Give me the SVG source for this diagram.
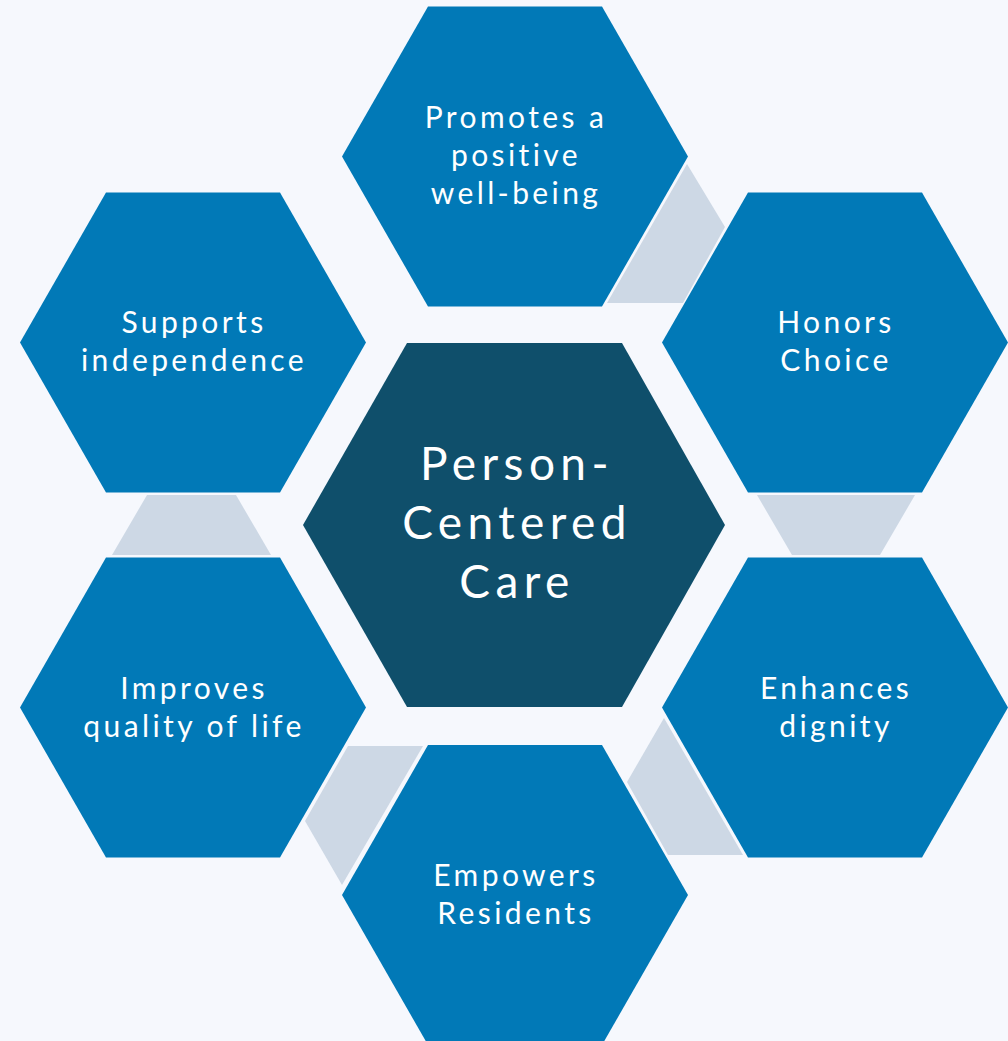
<svg xmlns="http://www.w3.org/2000/svg" width="1008" height="1041" viewBox="0 0 1008 1041">
  <style>
    .hex { fill: #0179b7; }
    .core { fill: #0f4f6b; }
    .link { fill: #cdd8e5; }
    .label { font-family: Lato, "Open Sans", "DejaVu Sans", sans-serif; fill: #ffffff; text-anchor: middle; }
    .small { font-size: 30px; letter-spacing: 3.4px; }
    .big { font-size: 46px; letter-spacing: 5.4px; }
  </style>
  <defs>
    <!-- flat-topped hexagon, centred on the origin -->
    <polygon id="cell" points="-173,0 -87,-150 87,-150 173,0 87,150 -87,150"/>
  </defs>

  <rect width="1008" height="1041" fill="#f6f8fd"/>

  <!-- light bands joining neighbouring cells -->
  <g id="connectors">
    <polygon class="link" points="687,164 725,227 683,303 607,303"/>
    <polygon class="link" points="757,495 915,495 880,555 792,555"/>
    <polygon class="link" points="664,718 627,782 668,855 743,855"/>
    <polygon class="link" points="348,746 423,746 342,885 305,821"/>
    <polygon class="link" points="147,495 236,495 271,555 112,555"/>
  </g>

  <g id="node-wellbeing">
    <use href="#cell" class="hex" x="515" y="156.5"/>
    <text class="label small" x="516" y="128">Promotes a</text>
    <text class="label small" x="516" y="166">positive</text>
    <text class="label small" x="516" y="204">well-being</text>
  </g>

  <g id="node-choice">
    <use href="#cell" class="hex" x="835" y="342.5"/>
    <text class="label small" x="836" y="333">Honors</text>
    <text class="label small" x="836" y="371">Choice</text>
  </g>

  <g id="node-dignity">
    <use href="#cell" class="hex" x="835" y="707.5"/>
    <text class="label small" x="836" y="699">Enhances</text>
    <text class="label small" x="836" y="737">dignity</text>
  </g>

  <g id="node-residents">
    <use href="#cell" class="hex" x="515" y="895"/>
    <text class="label small" x="516" y="886">Empowers</text>
    <text class="label small" x="516" y="924">Residents</text>
  </g>

  <g id="node-quality">
    <use href="#cell" class="hex" x="193" y="707.5"/>
    <text class="label small" x="194" y="699">Improves</text>
    <text class="label small" x="194" y="737">quality of life</text>
  </g>

  <g id="node-independence">
    <use href="#cell" class="hex" x="193" y="342.5"/>
    <text class="label small" x="194" y="333">Supports</text>
    <text class="label small" x="194" y="371">independence</text>
  </g>

  <g id="node-center">
    <polygon class="core" points="303,525 407,343 622,343 725,525 622,707 407,707"/>
    <text class="label big" x="517" y="480">Person-</text>
    <text class="label big" x="517" y="539">Centered</text>
    <text class="label big" x="517" y="598">Care</text>
  </g>
</svg>
